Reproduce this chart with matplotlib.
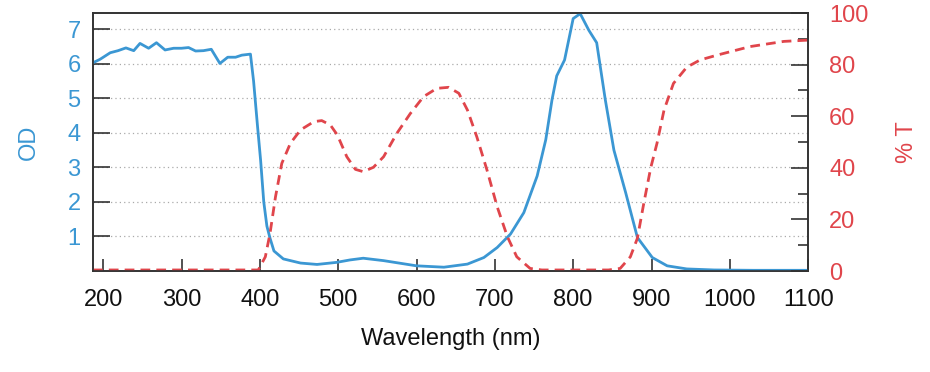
import matplotlib
matplotlib.use("Agg")
import matplotlib.pyplot as plt
from matplotlib.ticker import MultipleLocator

# optical density curve (left axis)
od_nm = [187, 196, 209, 219, 229, 239, 247, 258, 268, 279, 290, 300, 309, 318, 328, 338,
         349, 359, 369, 377, 388, 392, 397, 401, 405, 409, 413, 418, 430, 452, 473, 498,
         515, 532, 558, 600, 635, 665, 686, 703, 720, 737, 754, 765, 773, 779, 789, 800,
         809, 820, 830, 841, 852, 867, 882, 901, 920, 945, 980, 1030, 1100]
od_val = [6.03, 6.13, 6.32, 6.38, 6.46, 6.38, 6.59, 6.45, 6.61, 6.40, 6.45, 6.45, 6.47, 6.37, 6.38, 6.42,
          6.01, 6.19, 6.19, 6.25, 6.28, 5.5, 4.2, 3.2, 2.0, 1.3, 0.95, 0.58, 0.35, 0.23, 0.19, 0.25,
          0.32, 0.37, 0.30, 0.15, 0.11, 0.20, 0.39, 0.68, 1.07, 1.69, 2.75, 3.8, 4.96, 5.65, 6.11, 7.31,
          7.45, 6.97, 6.61, 4.96, 3.5, 2.27, 0.97, 0.39, 0.15, 0.06, 0.03, 0.02, 0.02]

# transmission curve (right axis)
t_nm = [187, 300, 398, 407, 413, 420, 428, 439, 452, 469, 479, 490, 499, 511, 522, 532,
        545, 558, 575, 592, 609, 626, 641, 654, 665, 677, 690, 703, 716, 728, 745, 760,
        800, 845, 860, 873, 882, 890, 899, 907, 916, 928, 945, 962, 984, 1026, 1069, 1100]
t_val = [0.4, 0.4, 0.4, 5.5, 14.6, 28.8, 41.7, 49.5, 54.7, 57.9, 58.3, 56.6, 52.7, 44.3, 39.4, 38.5,
         40.2, 44.3, 53.4, 61.0, 67.6, 70.8, 71.2, 68.9, 62.4, 52.0, 39.1, 24.9, 13.3, 5.5, 1.0, 0.4,
         0.4, 0.4, 1.0, 5.5, 12.7, 26.0, 40.0, 49.5, 62.4, 72.7, 79.0, 81.8, 83.7, 87.0, 89.0, 89.5]

blue = "#3b97d3"
red = "#e0454b"

plt.rcParams['font.family'] = ['Liberation Sans', 'DejaVu Sans']

fig = plt.figure(figsize=(9.3, 3.72), dpi=100)
ax = fig.add_axes([0.1, 0.2715, 0.769, 0.6935])
ax2 = ax.twinx()

ax.plot(od_nm, od_val, color=blue, lw=2.0, zorder=3)
ax2.plot(t_nm, t_val, color=red, lw=2.0, dashes=(3.5, 2.2))

ax.set_xlim(187, 1100)
ax.set_ylim(0, 7.47)
ax2.set_ylim(0, 100)

ax.set_xticks([200, 300, 400, 500, 600, 700, 800, 900, 1000, 1100])
ax.set_yticks([1, 2, 3, 4, 5, 6, 7])
ax2.yaxis.set_major_locator(MultipleLocator(20))
ax2.yaxis.set_minor_locator(MultipleLocator(10))

ax.grid(axis='y', color='#aaaaaa', ls=(0, (1, 2.5)), lw=0.9)
ax.set_axisbelow(True)

ax.tick_params(axis='x', direction='in', length=9, width=1.1, color='#222222',
               labelsize=17, pad=13, labelcolor='#111111')
ax.tick_params(axis='y', direction='in', length=12, width=1.1, color='#222222',
               labelsize=17, pad=9, labelcolor=blue)
ax2.tick_params(axis='y', which='major', direction='in', length=12, width=1.1, color='#222222',
                labelsize=17, pad=15, labelcolor=red)
ax2.tick_params(axis='y', which='minor', direction='in', length=7, width=1.1, color='#222222')

for a in (ax, ax2):
    for s in a.spines.values():
        s.set_color('#333333')
        s.set_linewidth(1.2)

ax.set_xlabel('Wavelength (nm)', fontsize=17, labelpad=12, color='#111111')
ax.set_ylabel('OD', fontsize=17, color=blue, labelpad=20)
ax2.set_ylabel('% T', fontsize=17, color=red, labelpad=20)

fig.savefig('out.png', dpi=100)
